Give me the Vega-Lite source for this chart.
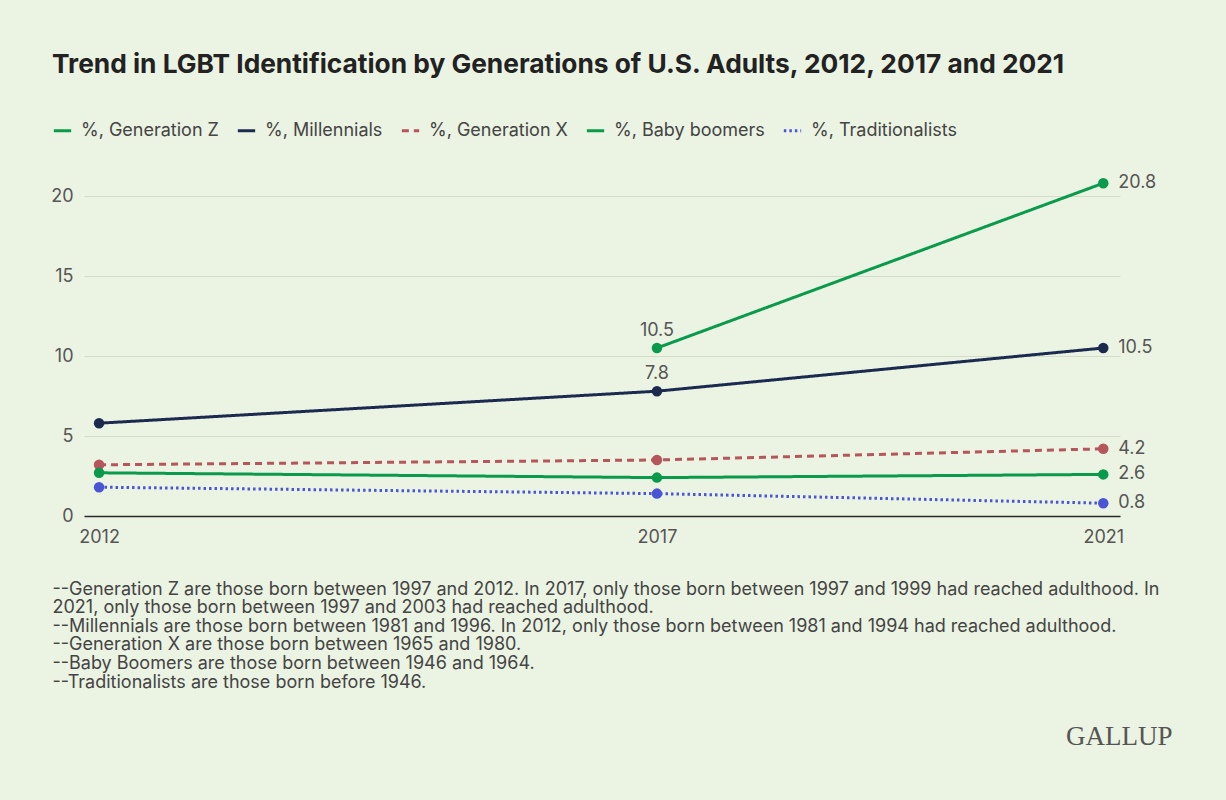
{
  "$schema": "https://vega.github.io/schema/vega-lite/v6.json",
  "autosize": {"type": "none"},
  "width": 1036,
  "height": 344,
  "padding": {"left": 84, "top": 172, "right": 106, "bottom": 284},
  "background": "#ebf3e2",
  "title": {
    "text": "Trend in LGBT Identification by Generations of U.S. Adults, 2012, 2017 and 2021",
    "anchor": "start",
    "frame": "group",
    "dx": -32,
    "dy": -38,
    "fontSize": 26.3,
    "fontWeight": "bold",
    "color": "#222222",
    "font": "Inter"
  },
  "config": {
    "font": "Inter",
    "view": {"stroke": null},
    "axis": {"labelFont": "Inter", "titleFont": "Inter", "labelColor": "#555555", "labelFontSize": 18},
    "legend": {"labelFont": "Inter", "labelColor": "#444444", "labelFontSize": 18}
  },
  "data": {
    "values": [
      {"year": 2017, "series": "%, Generation Z", "value": 10.5},
      {"year": 2021, "series": "%, Generation Z", "value": 20.8},
      {"year": 2012, "series": "%, Millennials", "value": 5.8},
      {"year": 2017, "series": "%, Millennials", "value": 7.8},
      {"year": 2021, "series": "%, Millennials", "value": 10.5},
      {"year": 2012, "series": "%, Generation X", "value": 3.2},
      {"year": 2017, "series": "%, Generation X", "value": 3.5},
      {"year": 2021, "series": "%, Generation X", "value": 4.2},
      {"year": 2012, "series": "%, Baby boomers", "value": 2.7},
      {"year": 2017, "series": "%, Baby boomers", "value": 2.4},
      {"year": 2021, "series": "%, Baby boomers", "value": 2.6},
      {"year": 2012, "series": "%, Traditionalists", "value": 1.8},
      {"year": 2017, "series": "%, Traditionalists", "value": 1.4},
      {"year": 2021, "series": "%, Traditionalists", "value": 0.8}
    ]
  },
  "encoding": {
    "x": {
      "field": "year",
      "type": "quantitative",
      "scale": {"domain": [2011.865, 2021.15], "nice": false, "zero": false},
      "axis": null
    },
    "y": {
      "field": "value",
      "type": "quantitative",
      "scale": {"domain": [0, 21.5], "nice": false},
      "axis": {
        "values": [0, 5, 10, 15, 20],
        "title": null,
        "domain": false,
        "ticks": false,
        "labelPadding": 11,
        "gridColor": "#d3dbc9",
        "gridWidth": 1.2
      }
    }
  },
  "layer": [
    {
      "mark": {"type": "line", "strokeWidth": 3},
      "encoding": {
        "x": {
          "field": "year",
          "type": "quantitative",
          "axis": {
            "orient": "bottom",
            "values": [2012, 2017, 2021],
            "format": "d",
            "grid": false,
            "ticks": false,
            "domainColor": "#2b2b2b",
            "domainWidth": 1.5,
            "labelPadding": 12,
            "title": [
              "--Generation Z are those born between 1997 and 2012. In 2017, only those born between 1997 and 1999 had reached adulthood. In",
              "2021, only those born between 1997 and 2003 had reached adulthood.",
              "--Millennials are those born between 1981 and 1996. In 2012, only those born between 1981 and 1994 had reached adulthood.",
              "--Generation X are those born between 1965 and 1980.",
              "--Baby Boomers are those born between 1946 and 1964.",
              "--Traditionalists are those born before 1946."
            ],
            "titleAnchor": null,
            "titleAlign": "left",
            "titleBaseline": "top",
            "titleX": -32,
            "titleY": 64,
            "titleFontSize": 18,
            "titleFontWeight": "normal",
            "titleColor": "#444444",
            "titleLineHeight": 18.6
          }
        },
        "color": {
          "field": "series",
          "type": "nominal",
          "scale": {
            "domain": ["%, Generation Z", "%, Millennials", "%, Generation X", "%, Baby boomers", "%, Traditionalists"],
            "range": ["#0a9a4c", "#1d2a50", "#b5565d", "#0a9a4c", "#4a55d6"]
          },
          "legend": {
            "title": null,
            "orient": "none",
            "direction": "horizontal",
            "legendX": -32,
            "legendY": -52,
            "symbolType": "stroke",
            "symbolSize": 300,
            "symbolStrokeWidth": 3,
            "columnPadding": 12,
            "labelOffset": 8
          }
        },
        "strokeDash": {
          "field": "series",
          "type": "nominal",
          "scale": {
            "domain": ["%, Generation Z", "%, Millennials", "%, Generation X", "%, Baby boomers", "%, Traditionalists"],
            "range": [[1, 0], [1, 0], [7, 5], [1, 0], [2.5, 3]]
          },
          "legend": {
            "title": null,
            "orient": "none",
            "direction": "horizontal",
            "legendX": -32,
            "legendY": -52,
            "symbolType": "stroke",
            "symbolSize": 300,
            "symbolStrokeWidth": 3,
            "columnPadding": 12,
            "labelOffset": 8
          }
        }
      }
    },
    {
      "mark": {"type": "point", "filled": true, "opacity": 1, "size": 110},
      "encoding": {
        "color": {"field": "series", "type": "nominal", "legend": null}
      }
    },
    {
      "transform": [{"filter": "datum.year == 2021"}],
      "mark": {"type": "text", "align": "left", "dx": 15, "fontSize": 18, "color": "#555555"},
      "encoding": {"text": {"field": "value", "type": "quantitative", "format": ".1f"}}
    },
    {
      "transform": [{"filter": "datum.year == 2017 && (datum.series == '%, Generation Z' || datum.series == '%, Millennials')"}],
      "mark": {"type": "text", "align": "center", "dy": -17, "fontSize": 18, "color": "#555555"},
      "encoding": {
        "text": {"field": "value", "type": "quantitative", "format": ".1f"},
        "x": {
          "field": "year",
          "type": "quantitative",
          "axis": {
            "orient": "bottom",
            "labels": false,
            "ticks": false,
            "domain": false,
            "grid": false,
            "title": "GALLUP",
            "titleFont": "Liberation Serif",
            "titleFontSize": 27,
            "titleFontWeight": "normal",
            "titleColor": "#555555",
            "titleAnchor": null,
            "titleAlign": "right",
            "titleBaseline": "middle",
            "titleX": 1088,
            "titleY": 220
          }
        }
      }
    }
  ],
  "resolve": {"axis": {"x": "independent"}}
}
